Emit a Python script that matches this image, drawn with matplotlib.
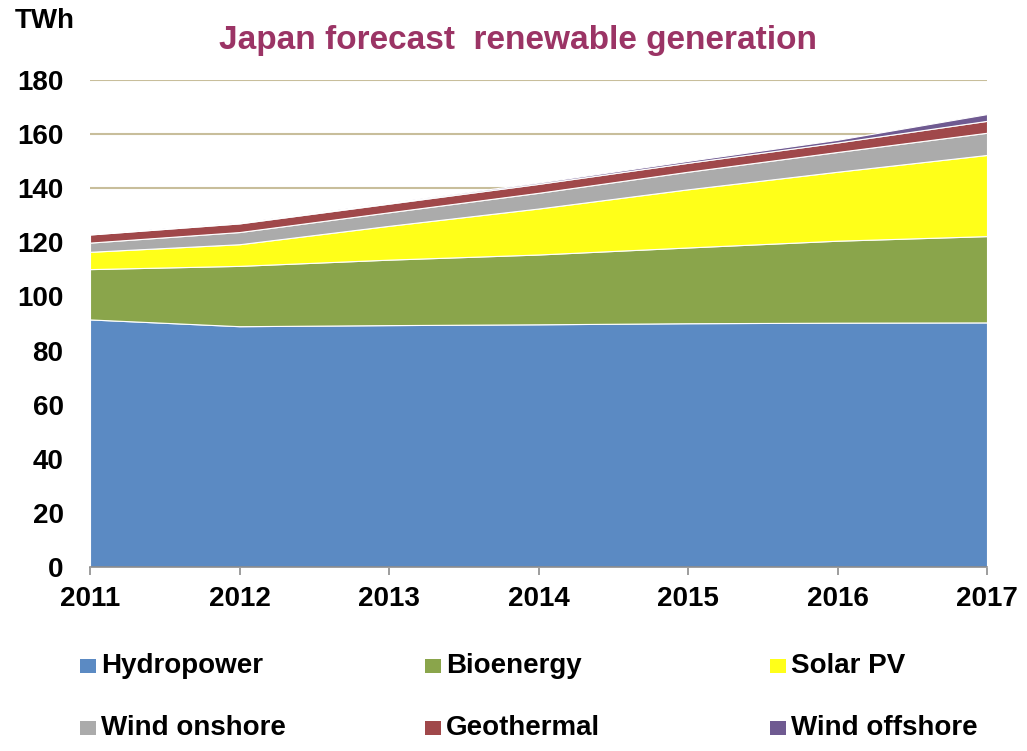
import numpy as np
import matplotlib.pyplot as plt
from matplotlib.patches import Rectangle

plt.rcParams['font.family'] = ['Liberation Sans', 'DejaVu Sans']
plt.rcParams['font.weight'] = 'bold'

years = [2011, 2012, 2013, 2014, 2015, 2016, 2017]
labels = ["Hydropower", "Bioenergy", "Solar PV", "Wind onshore", "Geothermal", "Wind offshore"]
colors = ["#5B8AC3", "#8AA54B", "#FFFF19", "#ABABAB", "#A0484A", "#6F5A91"]

hydro = [91.5, 89.0, 89.4, 89.7, 90.1, 90.3, 90.4]
bio = [18.6, 22.3, 24.2, 25.8, 28.0, 30.3, 31.9]
solar = [6.4, 8.0, 12.5, 17.0, 21.5, 25.5, 30.0]
onshore = [3.4, 4.5, 5.0, 5.8, 6.5, 7.3, 8.2]
geo = [3.0, 3.2, 3.2, 3.3, 3.3, 3.5, 4.4]
offshore = [0.2, 0.3, 0.4, 0.5, 0.7, 1.0, 2.5]

fig = plt.figure(figsize=(10.27, 7.51), dpi=100)
ax = fig.add_axes([90/1027, 184/751, 897/1027, 487/751])

ax.stackplot(years, hydro, bio, solar, onshore, geo, offshore,
             colors=colors, edgecolor="white", linewidth=0.8, zorder=2)

ax.set_xlim(2011, 2017)
ax.set_ylim(0, 180)
ax.set_yticks(range(0, 181, 20))
ax.set_xticks(years)
ax.grid(axis="y", color="#C8BE9B", linewidth=1.5, zorder=0)
ax.set_axisbelow(True)
for s in ["top", "right", "left"]:
    ax.spines[s].set_visible(False)
ax.spines["bottom"].set_color("#8C8C8C")
ax.spines["bottom"].set_linewidth(1.2)
ax.spines["bottom"].set_zorder(3)
ax.tick_params(axis="y", length=0, pad=19, labelsize=20)
ax.tick_params(axis="x", length=6, color="#8C8C8C", width=1.2, pad=8, labelsize=20)
for lab in ax.get_xticklabels() + ax.get_yticklabels():
    lab.set_fontweight("bold")

fig.text(15/1027, 1 - 21/751, "TWh", fontsize=20, fontweight="bold", va="center", ha="left")
fig.text(518/1027, 1 - 41/751, "Japan forecast  renewable generation", fontsize=24,
         fontweight="bold", color="#9B3465", ha="center", va="center")

# legend laid out like the original: 3 equal columns, 2 rows
col_x = [80, 425, 770]
row_y = [666, 728]
for i, (lab, c) in enumerate(zip(labels, colors)):
    x = col_x[i % 3]
    y = row_y[i // 3]
    fig.add_artist(Rectangle((x/1027, 1 - (y + 7)/751), 16/1027, 14/751,
                             facecolor=c, edgecolor="none", transform=fig.transFigure))
    fig.text((x + 21)/1027, 1 - y/751, lab, fontsize=20, fontweight="bold",
             va="center", ha="left")

fig.savefig("out.png", dpi=100)
